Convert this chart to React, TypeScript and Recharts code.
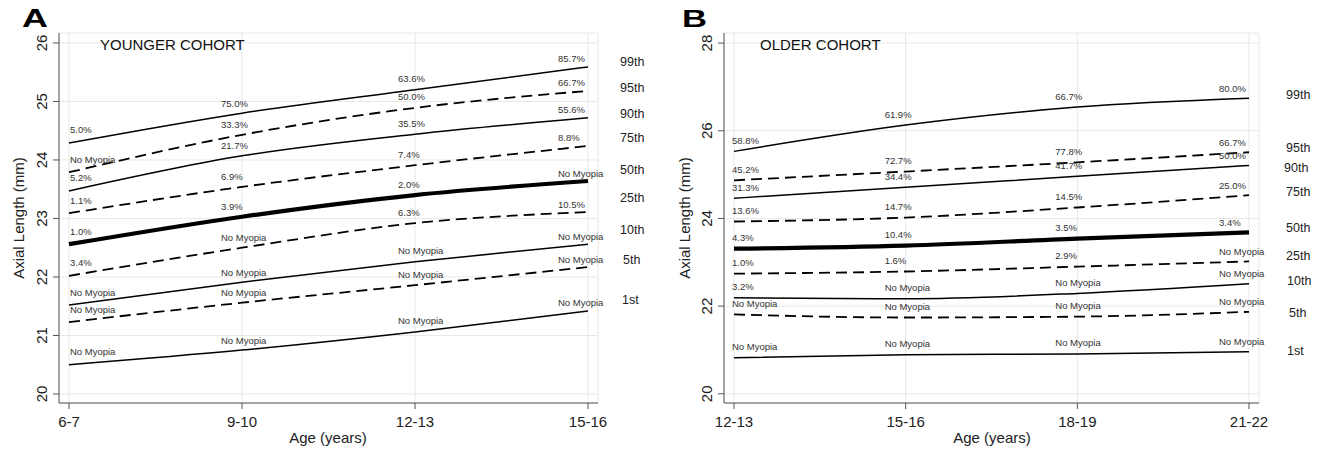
import React from 'react';
import { LineChart, Line, XAxis, YAxis, CartesianGrid, LabelList } from 'recharts';

const FONT = '"Liberation Sans", Arial, Helvetica, sans-serif';

// ---------- categories ----------
const youngAges = ['6-7', '9-10', '12-13', '15-16'];
const oldAges = ['12-13', '15-16', '18-19', '21-22'];
const percentileKeys = ['p99', 'p95', 'p90', 'p75', 'p50', 'p25', 'p10', 'p5', 'p1'];
const percentileNames = ['99th', '95th', '90th', '75th', '50th', '25th', '10th', '5th', '1st'];

// ---------- tick values ----------
const yTicksYoung = [20, 21, 22, 23, 24, 25, 26];
const yTicksOld = [20, 22, 24, 26, 28];

// ---------- younger cohort axial length (mm) ----------
const young99 = [24.29, 24.8, 25.2, 25.59];
const young95 = [23.79, 24.43, 24.89, 25.18];
const young90 = [23.47, 24.07, 24.44, 24.72];
const young75 = [23.09, 23.54, 23.91, 24.24];
const young50 = [22.56, 23.03, 23.4, 23.64];
const young25 = [22.02, 22.5, 22.92, 23.11];
const young10 = [21.52, 21.91, 22.26, 22.56];
const young5 = [21.23, 21.56, 21.86, 22.17];
const young1 = [20.5, 20.75, 21.06, 21.42];

// ---------- younger cohort myopia labels ----------
const NM = 'No Myopia';
const young99Lbl = ['5.0%', '75.0%', '63.6%', '85.7%'];
const young95Lbl = [NM, '33.3%', '50.0%', '66.7%'];
const young90Lbl = ['5.2%', '21.7%', '35.5%', '55.6%'];
const young75Lbl = ['1.1%', '6.9%', '7.4%', '8.8%'];
const young50Lbl = ['1.0%', '3.9%', '2.0%', NM];
const young25Lbl = ['3.4%', NM, '6.3%', '10.5%'];
const young10Lbl = [NM, NM, NM, NM];
const young5Lbl = [NM, NM, NM, NM];
const young1Lbl = [NM, NM, NM, NM];

// ---------- older cohort axial length (mm) ----------
const old99 = [25.53, 26.13, 26.54, 26.74];
const old95 = [24.87, 25.07, 25.28, 25.51];
const old90 = [24.46, 24.71, 24.96, 25.21];
const old75 = [23.93, 24.02, 24.25, 24.53];
const old50 = [23.31, 23.38, 23.54, 23.68];
const old25 = [22.74, 22.79, 22.9, 23.02];
const old10 = [22.19, 22.17, 22.29, 22.51];
const old5 = [21.81, 21.74, 21.76, 21.87];
const old1 = [20.82, 20.89, 20.91, 20.96];

// ---------- older cohort myopia labels ----------
const old99Lbl = ['58.8%', '61.9%', '66.7%', '80.0%'];
const old95Lbl = ['45.2%', '72.7%', '77.8%', '66.7%'];
const old90Lbl = ['31.3%', '34.4%', '41.7%', '50.0%'];
const old75Lbl = ['13.6%', '14.7%', '14.5%', '25.0%'];
const old50Lbl = ['4.3%', '10.4%', '3.5%', '3.4%'];
const old25Lbl = ['1.0%', '1.6%', '2.9%', NM];
const old10Lbl = ['3.2%', NM, NM, NM];
const old5Lbl = [NM, NM, NM, NM];
const old1Lbl = [NM, NM, NM, NM];

const youngSeries = [young99, young95, young90, young75, young50, young25, young10, young5, young1];
const youngLabels = [young99Lbl, young95Lbl, young90Lbl, young75Lbl, young50Lbl, young25Lbl, young10Lbl, young5Lbl, young1Lbl];
const oldSeries = [old99, old95, old90, old75, old50, old25, old10, old5, old1];
const oldLabels = [old99Lbl, old95Lbl, old90Lbl, old75Lbl, old50Lbl, old25Lbl, old10Lbl, old5Lbl, old1Lbl];

function buildRows(ages: string[], series: number[][], labels: string[][]) {
  return ages.map((age, i) => {
    const row: any = { age };
    percentileKeys.forEach((k, j) => {
      row[k] = series[j][i];
      row[k + 'l'] = labels[j][i];
    });
    return row;
  });
}

const youngData = buildRows(youngAges, youngSeries, youngLabels);
const oldData = buildRows(oldAges, oldSeries, oldLabels);

// line styles per percentile
const lineStyle: Record<string, { w: number; dash?: string }> = {
  p99: { w: 1.5 },
  p95: { w: 1.8, dash: '11 6' },
  p90: { w: 1.5 },
  p75: { w: 1.8, dash: '11 6' },
  p50: { w: 4.2 },
  p25: { w: 1.8, dash: '11 6' },
  p10: { w: 1.5 },
  p5: { w: 1.8, dash: '11 6' },
  p1: { w: 1.5 },
};

const makeLabel = (dxs: number[], dys: number[]) => (props: any) => {
  const { x, y, value, index } = props;
  if (x == null || y == null) return null;
  const i = index ?? 0;
  return (
    <text x={x + dxs[i]} y={y + dys[i]} fontSize={9.5} fill="#333" fontFamily={FONT}>
      {value}
    </text>
  );
};

const RotTick = (props: any) => {
  const { x, y, payload } = props;
  const bx = x - 4;
  return (
    <text
      x={bx}
      y={y}
      transform={`rotate(-90 ${bx} ${y})`}
      textAnchor="middle"
      fontSize={15}
      fill="#222"
      fontFamily={FONT}
    >
      {payload.value}
    </text>
  );
};

interface PanelProps {
  data: any[];
  width: number;
  yWidth: number;
  marginRight: number;
  domain: [number, number];
  ticks: number[];
  dxs: number[];
  dys: number[];
}

function Panel({ data, width, yWidth, marginRight, domain, ticks, dxs, dys }: PanelProps) {
  const renderLabel = makeLabel(dxs, dys);
  return (
    <LineChart width={width} height={449} data={data} margin={{ top: 33, right: marginRight, bottom: 0, left: 0 }}>
      <CartesianGrid stroke="#e8e8e8" strokeWidth={1} />
      <XAxis
        dataKey="age"
        interval={0}
        padding={{ left: 10, right: 10 }}
        height={46}
        tickSize={6}
        tickMargin={7}
        tick={{ fontSize: 15, fill: '#222', fontFamily: FONT }}
        axisLine={{ stroke: '#555' }}
        tickLine={{ stroke: '#555' }}
      />
      <YAxis
        type="number"
        domain={domain}
        ticks={ticks}
        width={yWidth}
        tickSize={6}
        tick={RotTick}
        axisLine={{ stroke: '#555' }}
        tickLine={{ stroke: '#555' }}
        interval={0}
      />
      {percentileKeys.map((k) => (
        <Line
          key={k}
          type="monotone"
          dataKey={k}
          stroke="#000"
          strokeWidth={lineStyle[k].w}
          strokeDasharray={lineStyle[k].dash}
          dot={false}
          activeDot={false}
          isAnimationActive={false}
        >
          <LabelList dataKey={k + 'l'} content={renderLabel} />
        </Line>
      ))}
    </LineChart>
  );
}

const rightYoungY = [65.5, 91.5, 117.5, 141.5, 173.5, 201.5, 233.5, 263.5, 303.5];
const rightYoungX = [620, 620, 620, 620, 620, 620, 620, 623, 622];
const rightOldY = [98.5, 151.5, 171.5, 195.5, 231.5, 259.5, 284.5, 316.5, 354.5];
const rightOldX = [1286, 1286, 1284, 1286, 1286, 1286, 1287, 1289, 1287];

export default function App() {
  return (
    <div style={{ position: 'absolute', left: 0, top: 0, width: 1323, height: 449, background: '#fff' }}>
      <div style={{ position: 'absolute', left: 0, top: 0 }}>
        <Panel
          data={youngData}
          width={660}
          yWidth={59}
          marginRight={62}
          domain={[19.846, 26.17]}
          ticks={yTicksYoung}
          dxs={[1, -21, -17, -30]}
          dys={[-9.5, -6.5, -7.5, -4.5]}
        />
      </div>
      <div style={{ position: 'absolute', left: 660, top: 0 }}>
        <Panel
          data={oldData}
          width={663}
          yWidth={64}
          marginRight={64}
          domain={[19.79, 28.23]}
          ticks={yTicksOld}
          dxs={[-2, -21, -22, -30]}
          dys={[-7.5, -7.5, -7.5, -6.5]}
        />
      </div>
      <svg
        width={1323}
        height={449}
        style={{ position: 'absolute', left: 0, top: 0, pointerEvents: 'none' }}
        fontFamily={FONT}
      >
        <text x={22} y={27} fontSize={25} fontWeight={900} fill="#000" textLength={26} lengthAdjust="spacingAndGlyphs">A</text>
        <text x={682} y={27} fontSize={24} fontWeight={900} fill="#000" textLength={25} lengthAdjust="spacingAndGlyphs">B</text>
        <text x={100} y={49.5} fontSize={15} fill="#111">YOUNGER COHORT</text>
        <text x={760} y={49.5} fontSize={15} fill="#111">OLDER COHORT</text>
        <text x={23.5} y={218} fontSize={15} fill="#222" textAnchor="middle" transform="rotate(-90 23.5 218)">Axial Length (mm)</text>
        <text x={689.5} y={218} fontSize={15} fill="#222" textAnchor="middle" transform="rotate(-90 689.5 218)">Axial Length (mm)</text>
        <text x={328} y={443} fontSize={15} fill="#222" textAnchor="middle">Age (years)</text>
        <text x={992} y={443} fontSize={15} fill="#222" textAnchor="middle">Age (years)</text>
        {percentileNames.map((n, i) => (
          <text key={'ya' + n} x={rightYoungX[i]} y={rightYoungY[i]} fontSize={12.5} fill="#222">{n}</text>
        ))}
        {percentileNames.map((n, i) => (
          <text key={'ob' + n} x={rightOldX[i]} y={rightOldY[i]} fontSize={12.5} fill="#222">{n}</text>
        ))}
      </svg>
    </div>
  );
}
